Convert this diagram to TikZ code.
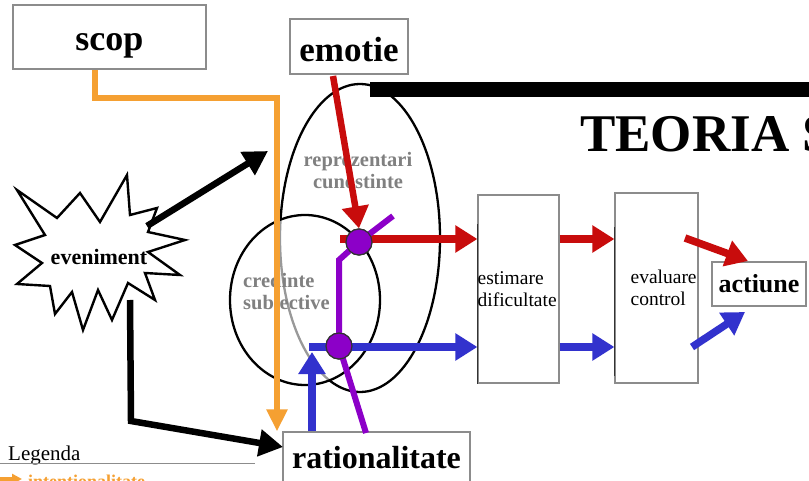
\documentclass[tikz,border=0pt]{standalone}
\usepackage{fontspec}
\setmainfont{Liberation Serif}
\usetikzlibrary{arrows.meta}
\definecolor{intentcol}{RGB}{245,160,50}
\definecolor{affectcol}{RGB}{200,12,12}
\definecolor{reasoncol}{RGB}{50,50,205}
\definecolor{linkcol}{RGB}{140,0,200}
\definecolor{memorycol}{RGB}{128,128,128}
\begin{document}
\begin{tikzpicture}
      [ x = 1pt, y = -1pt
      , box/.style =
        { draw = black!45, line width = 1.2pt, inner sep = 0pt }
      , bigtext/.style =
        { font = \fontsize{#1}{#1}\selectfont\bfseries }
      , plain/.style =
        { font = \fontsize{19.5}{22}\selectfont, align = left, inner sep = 0pt }
      , memory/.style =
        { font = \fontsize{20.5}{22}\selectfont\bfseries, memorycol, inner sep = 0pt }
      , oval/.style =
        { draw, line width = 2.3pt }
      , burst/.style =
        { draw, fill = white, line width = 2.4pt, line join = miter }
      , cause/.style =
        { line width = 6.5pt, -{Triangle[length=24pt, width=26pt]} }
      , intent/.style =
        { intentcol, line width = 5.5pt, -{Triangle[length=22pt, width=20pt]} }
      , affect/.style =
        { affectcol, line width = 7.5pt, -{Triangle[length=22pt, width=26pt]} }
      , reason/.style =
        { reasoncol, line width = 7.5pt, -{Triangle[length=22pt, width=26pt]} }
      , link/.style =
        { linkcol, line width = 6pt }
      , knot/.style =
        { circle, fill = linkcol, draw = black!80, line width = 1.2pt,
          minimum size = 26pt, inner sep = 0pt }
      ]
      \useasboundingbox (0,0) rectangle (809,481);
      % title bar
      \fill (370,82) rectangle (809,97);
      \node [bigtext=53, anchor=base west, inner sep=0pt] (title) at (580,152) {TEORIA S};
      % boxes
      \node [box, bigtext=36, minimum width=193pt, minimum height=64pt,
        text height=28pt, text depth=0pt] (scop) at (109.5,37) {scop};
      \node [box, bigtext=35, minimum width=118pt, minimum height=55pt,
        text height=31pt, text depth=0pt] (emotie) at (349,46.5) {emotie};
      \node [box, minimum width=81pt, minimum height=188pt] (estimare) at (518.5,289) {};
      \node [box, minimum width=83pt, minimum height=190pt] (evaluare) at (656.5,288) {};
      \node [box, bigtext=26, minimum width=94pt, minimum height=44pt] (actiune) at (759,284) {actiune};
      \node [box, bigtext=32, minimum width=187pt, minimum height=58pt,
        text height=14pt, text depth=0pt] (rationalitate) at (376.5,461) {rationalitate};
      \draw [black!80, line width=1pt] ([yshift=-30pt]estimare.north west) -- (estimare.south west);
      \draw [black!80, line width=1pt] ([yshift=-35pt]evaluare.north west) -- ([yshift=8pt]evaluare.south west);
      \node [plain, anchor=west] (estimaretext) at (estimare.west) {estimare\\dificultate};
      \node [plain, anchor=west] (evaluaretext) at ([xshift=16pt]evaluare.west) {evaluare\\control};
      % knowledge ovals
      \draw [oval] (360,238) ellipse [x radius=80pt, y radius=154pt];
      \draw [oval, fill=white, fill opacity=0.6] (305,300) ellipse [x radius=75pt, y radius=85pt];
      \node [memory, align=center] (reprezentari) at (358,171) {reprezentari\\cunostinte};
      \node [memory, align=left, anchor=west] (credinte) at (243,292) {credinte\\subiective};
      % event
      \draw [burst] (17,190) -- (57,218) -- (80,193) -- (100,222) -- (127,175)
        -- (130,215) -- (157,208) -- (148,232) -- (185,240) -- (148,252)
        -- (180,275) -- (145,273) -- (155,300) -- (128,283) -- (112,320)
        -- (98,290) -- (83,330) -- (72,292) -- (55,314) -- (50,286)
        -- (17,284) -- (42,263) -- (15,245) -- (45,235) -- cycle;
      \node [bigtext=22, inner sep=0pt] (eveniment) at (99,257) {eveniment};
      % connector ends
      \coordinate (burstA) at (147,226);
      \coordinate (ovalA) at (268,151);
      \coordinate (burstB) at (130,300);
      \coordinate (burstC) at (131,421);
      \coordinate (ratioA) at (283,447);
      \coordinate (scopA) at (95,98);
      \coordinate (scopB) at (277,98);
      \coordinate (emoA) at (333,76);
      \coordinate (redA) at (340,239);
      \coordinate (blueA) at (312,347);
      \coordinate (linkA) at (393,216);
      \coordinate (linkB) at (339,260);
      \coordinate (linkC) at (366,433);
      \coordinate (redB) at (685,238);
      \coordinate (actA) at (748,261);
      \coordinate (blueB) at (692,347);
      \coordinate (actB) at (745,312);
      \node [knot] (know) at (359,242) {};
      \node [knot] (belief) at (339,346) {};
      % connectors
      \draw [cause] (burstA) -- (ovalA);
      \draw [cause, line join=miter] (burstB) -- (burstC) -- (ratioA);
      \draw [intent] (scop.south -| scopA) -- (scopA) -- (scopB) -- (scopB |- rationalitate.north);
      \draw [affect, line width=6.5pt] (emoA) -- (know.north);
      \draw [affect] (redA) -- (redA -| estimare.west);
      \draw [link] (linkA) -- (know.center) -- (linkB) -- (belief.center) -- (linkC);
      \draw [reason] (blueA |- rationalitate.north) -- ([yshift=-5pt]blueA);
      \draw [reason] ([xshift=-3pt]blueA) -- (blueA -| estimare.west);
      \node [knot] at (know) {};
      \node [knot] at (belief) {};
      \draw [affect] (redA -| estimare.east) -- (redA -| evaluare.west);
      \draw [reason] (blueA -| estimare.east) -- (blueA -| evaluare.west);
      \draw [affect] (redB) -- (actA);
      \draw [reason] (blueB) -- (actB);
      % legend
      \node [plain, font=\fontsize{21}{21}\selectfont, anchor=base west] (legenda) at (8,460) {Legenda};
      \draw [black!45, line width=1pt] (0,463) -- (255,463);
      \coordinate (legA) at (0,479);
      \coordinate (legB) at (22,479);
      \draw [intentcol, line width=4pt, -{Triangle[length=10pt, width=10pt]}] (legA) -- (legB);
      \node [bigtext=18, intentcol, anchor=base west, inner sep=0pt] (intentionalitate) at (28,487) {intentionalitate};
\end{tikzpicture}
\end{document}
